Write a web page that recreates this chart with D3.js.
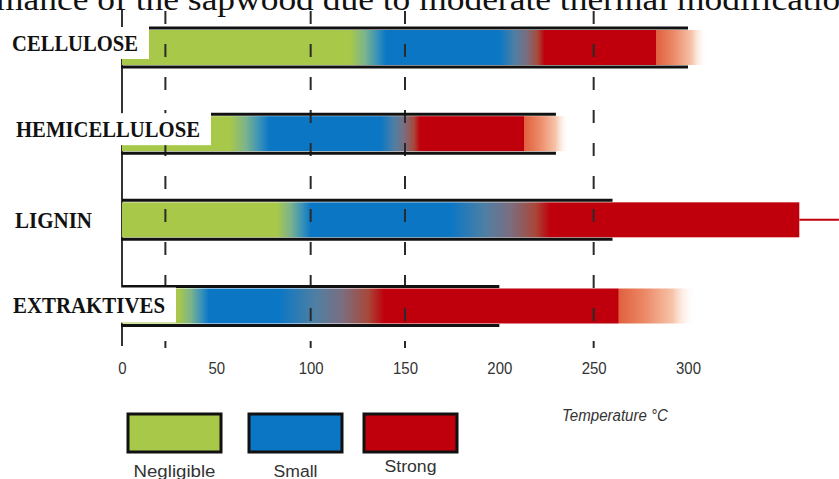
<!DOCTYPE html>
<html><head><meta charset="utf-8">
<script src="https://cdn.jsdelivr.net/npm/d3@7"></script>
<style>html,body{margin:0;padding:0;background:#fff;overflow:hidden}</style>
</head><body><svg id="c" width="839" height="479"></svg>
<script>
// ---- data (temperatures, °C) ----
const categories = ["CELLULOSE", "HEMICELLULOSE", "LIGNIN", "EXTRAKTIVES"];
const greenEnd   = [121, 57, 82, 30];
const blueStart  = [140, 78, 100, 46];
const blueEnd    = [200, 137, 174, 83];
const redStart   = [224, 158, 227, 139];
const redEnd     = [283, 213, 359, 263];
const fadeEnd    = [310, 237, null, 304];
const outlineEnd = [300, 230, 260, 200];
const tailEnd    = [null, null, 380, null];
const refLines   = [23, 100, 150, 250];
const tickLabels = [0, 50, 100, 150, 200, 250, 300];
const legendLabels = ["Negligible", "Small", "Strong"];
const title = "mance of the sapwood due to moderate thermal modification";
const axisTitle = "Temperature °C";

const GREEN = "#a8c84a", BLUE = "#0b77c4", RED = "#bf000c";
const legendColors = [GREEN, BLUE, RED];

const svg = d3.select("#c");
const x = d3.scaleLinear().domain([0, 300]).range([122, 688]);
const y = d3.scalePoint().domain(categories).range([47.5, 306]);
const halfH = 19.5;
const defs = svg.append("defs");

// title (cut at top, as in the source image)
svg.append("text").attr("x", -4).attr("y", 10)
  .attr("font-family", "Liberation Serif, Times New Roman, serif")
  .attr("font-size", 31).attr("fill", "#111")
  .attr("textLength", 862).attr("lengthAdjust", "spacingAndGlyphs")
  .text(title);

// axis vertical line
svg.append("line").attr("x1", x(0)).attr("x2", x(0)).attr("y1", 10).attr("y2", 346)
  .attr("stroke", "#333").attr("stroke-width", 2);

// gradients + fills
categories.forEach((c, i) => {
  const end = fadeEnd[i] != null ? fadeEnd[i] : redEnd[i];
  const x0 = x(0), x1 = x(end);
  const off = t => Math.max(0, Math.min(1, (x(t) - x0) / (x1 - x0)));
  const g = defs.append("linearGradient").attr("id", "g" + i)
    .attr("gradientUnits", "userSpaceOnUse")
    .attr("x1", x0).attr("x2", x1).attr("y1", 0).attr("y2", 0);
  const stops = [];
  const gb = blueStart[i] - greenEnd[i];
  const br = redStart[i] - blueEnd[i];
  stops.push([0, GREEN, 1], [greenEnd[i], GREEN, 1],
    [greenEnd[i] + gb * 0.4, "#7db48a", 1], [greenEnd[i] + gb * 0.75, "#3a93b8", 1],
    [blueStart[i], BLUE, 1], [blueEnd[i], BLUE, 1],
    [blueEnd[i] + br * 0.35, "#4f7fa3", 1], [blueEnd[i] + br * 0.6, "#7a6e80", 1],
    [blueEnd[i] + br * 0.85, "#a8483a", 1],
    [redStart[i], RED, 1], [redEnd[i], RED, 1]);
  if (fadeEnd[i] != null) {
    const f = fadeEnd[i] - redEnd[i];
    stops.push([redEnd[i] + 0.3, "#e0603f", 1], [redEnd[i] + f * 0.35, "#ec8a68", 1],
      [redEnd[i] + f * 0.7, "#f6c3a8", 1], [fadeEnd[i], "#ffffff", 0]);
  }
  stops.forEach(s => g.append("stop").attr("offset", off(s[0]))
    .attr("stop-color", s[1]).attr("stop-opacity", s[2]));

  const cy = y(c);
  svg.append("rect").attr("x", x0).attr("y", cy - halfH + 2)
    .attr("width", x1 - x0).attr("height", halfH * 2 - 4)
    .attr("fill", "url(#g" + i + ")");
  if (tailEnd[i] != null) {
    svg.append("line").attr("x1", x1).attr("x2", x(tailEnd[i]))
      .attr("y1", cy).attr("y2", cy).attr("stroke", RED).attr("stroke-width", 2);
  }
});

// dashed reference lines
svg.selectAll(".ref").data(refLines).join("line")
  .attr("x1", d => x(d)).attr("x2", d => x(d)).attr("y1", 11).attr("y2", 348)
  .attr("stroke", "#2a2a2a").attr("stroke-width", 2).attr("stroke-dasharray", "13,20");

// labels with white boxes + outlines
const labelG = svg.append("g");
const labelWidths = [126, 184, 77, 152];
const labelStart = [12, 16, 15, 13];
categories.forEach((c, i) => {
  const cy = y(c);
  const T = cy - halfH, B = cy + halfH;
  const coversTop = i < 2;
  const t = labelG.append("text")
    .attr("font-family", "Liberation Serif, Times New Roman, serif")
    .attr("font-weight", "bold").attr("font-size", 23).attr("fill", "#111")
    .attr("textLength", labelWidths[i]).attr("lengthAdjust", "spacingAndGlyphs")
    .text(c);
  const textEnd = labelStart[i] + labelWidths[i];
  let boxEnd = x(0);
  if (textEnd + 11 > x(0)) {
    boxEnd = textEnd + 11;
    const by0 = coversTop ? T - 1 : T + 1;
    const by1 = coversTop ? B - 8 : B - 3;
    labelG.insert("rect", "text").attr("x", 0).attr("y", by0)
      .attr("width", boxEnd).attr("height", by1 - by0).attr("fill", "#fff");
    t.attr("x", labelStart[i]).attr("y", (by0 + by1) / 2 + 8);
  } else {
    t.attr("x", labelStart[i]).attr("y", cy + 8);
  }
  const topStart = coversTop ? boxEnd : x(0);
  svg.append("line").attr("x1", topStart).attr("x2", x(outlineEnd[i]))
    .attr("y1", T).attr("y2", T).attr("stroke", "#111").attr("stroke-width", 3);
  svg.append("line").attr("x1", x(0) - 1).attr("x2", x(outlineEnd[i]))
    .attr("y1", B).attr("y2", B).attr("stroke", "#111").attr("stroke-width", 3);
});
labelG.raise();

// x axis tick labels
const ax = svg.append("g").attr("transform", "translate(0,359)")
  .call(d3.axisBottom(x).tickValues(tickLabels).tickSize(0).tickPadding(3));
ax.select(".domain").remove();
ax.selectAll("text").attr("font-family", "Liberation Sans, Arial, sans-serif")
  .attr("font-size", 17).attr("fill", "#333")
  .attr("transform", "scale(0.88,1)");

// axis title
svg.append("text").attr("x", 562).attr("y", 421)
  .attr("font-family", "Liberation Sans, Arial, sans-serif")
  .attr("font-style", "italic").attr("font-size", 16).attr("fill", "#333")
  .attr("textLength", 106).attr("lengthAdjust", "spacingAndGlyphs")
  .text(axisTitle);

// legend
const lx = [128, 249, 364];
const lw = [82, 44, 52];
legendLabels.forEach((l, i) => {
  svg.append("rect").attr("x", lx[i]).attr("y", 414).attr("width", 93).attr("height", 38)
    .attr("fill", legendColors[i]).attr("stroke", "#111").attr("stroke-width", 3);
  svg.append("text").attr("x", lx[i] + 46.5 - lw[i] / 2).attr("y", [477, 477, 472][i])
    .attr("font-family", "Liberation Sans, Arial, sans-serif")
    .attr("font-size", 16).attr("fill", "#333")
    .attr("textLength", lw[i]).attr("lengthAdjust", "spacingAndGlyphs").text(l);
});
</script></body></html>
